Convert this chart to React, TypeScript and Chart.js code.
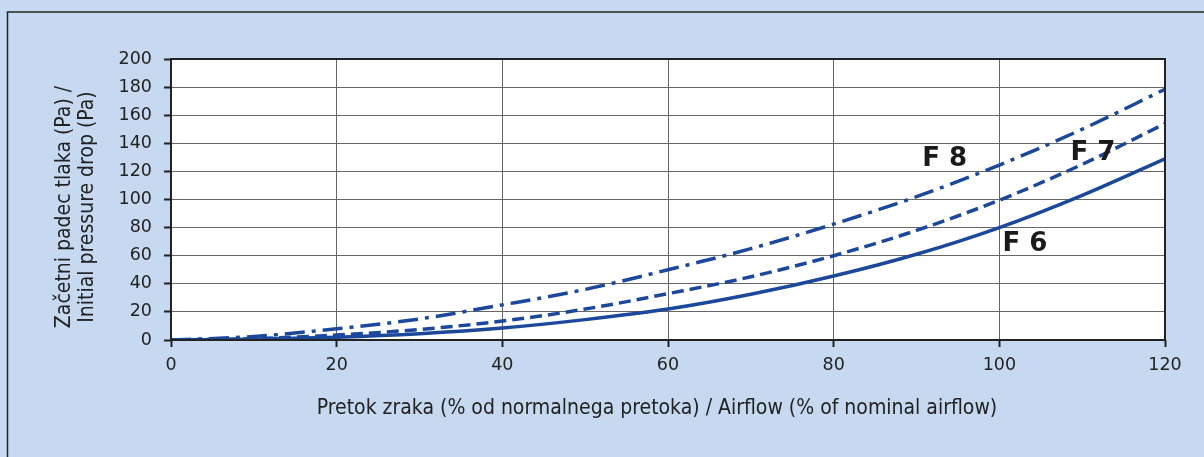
import React, { useEffect, useRef } from "react";
import { Chart, registerables } from "chart.js";

Chart.register(...registerables);

const airflow = [0, 10, 20, 30, 40, 50, 60, 70, 80, 90, 100, 110, 120];
const f6 = [0, 0.6, 2, 4.5, 8.5, 14.5, 22, 32.5, 45.5, 61, 80, 103, 129];
const f7 = [0, 1, 3.5, 7.5, 13.5, 22, 33, 45, 60, 78, 99.5, 125, 154];
const f8 = [0, 2.5, 8, 15, 25, 36, 50, 65, 82.5, 102, 124.5, 150, 178.5];

const seriesLabels = ["F 6", "F 7", "F 8"];
const labelPos = [
  { x: 103.1, y: 68.3 },
  { x: 111.3, y: 133 },
  { x: 93.4, y: 128.8 },
];

const xTitle = "Pretok zraka (% od normalnega pretoka) / Airflow (% of nominal airflow)";
const yTitle = ["Začetni padec tlaka (Pa) /", "Initial pressure drop (Pa)"];

const BG = "#c6d9f0";
const LINE = "#1c489c";
const TEXT = "#222222";

export default function App() {
  const ref = useRef<HTMLCanvasElement | null>(null);
  useEffect(() => {
    if (!ref.current) return;
    const mk = (vals: number[]) => airflow.map((x, i) => ({ x, y: vals[i] }));
    const decor = {
      id: "decor",
      beforeDraw(chart: any) {
        const c = chart.ctx;
        c.save();
        c.fillStyle = BG;
        c.fillRect(0, 0, chart.width, chart.height);
        c.strokeStyle = "#222";
        c.lineWidth = 1.5;
        c.beginPath();
        c.moveTo(7.5, chart.height);
        c.lineTo(7.5, 12);
        c.lineTo(chart.width, 12);
        c.stroke();
        const a = chart.chartArea;
        c.fillStyle = "#ffffff";
        c.fillRect(a.left, a.top, a.right - a.left, a.bottom - a.top);
        c.restore();
      },
      afterDraw(chart: any) {
        const c = chart.ctx;
        const a = chart.chartArea;
        const xs = chart.scales.x;
        const ys = chart.scales.y;
        c.save();
        c.strokeStyle = "#222";
        c.lineWidth = 2;
        c.strokeRect(a.left, a.top, a.right - a.left, a.bottom - a.top);
        c.fillStyle = TEXT;
        c.font = "21px 'DejaVu Sans Condensed', 'DejaVu Sans'";
        c.textAlign = "center";
        c.textBaseline = "middle";
        c.fillText(xTitle, (313 + 1001) / 2, 409);
        c.save();
        c.translate(65, (87 + 327) / 2);
        c.rotate(-Math.PI / 2);
        c.fillText(yTitle[0], 0, 0);
        c.restore();
        c.save();
        c.translate(88, (87 + 327) / 2);
        c.rotate(-Math.PI / 2);
        c.fillText(yTitle[1], 0, 0);
        c.restore();
        c.font = "bold 26px 'DejaVu Sans'";
        c.fillStyle = "#1a1a1a";
        seriesLabels.forEach((t, i) => {
          c.fillText(t, xs.getPixelForValue(labelPos[i].x), ys.getPixelForValue(labelPos[i].y));
        });
        c.restore();
      },
    };
    const chart = new Chart(ref.current, {
      type: "line",
      data: {
        datasets: [
          { label: "F 6", data: mk(f6), borderColor: LINE, borderWidth: 3.5, pointRadius: 0, cubicInterpolationMode: "monotone", fill: false },
          { label: "F 7", data: mk(f7), borderColor: LINE, borderWidth: 3.5, borderDash: [12, 6], pointRadius: 0, cubicInterpolationMode: "monotone", fill: false },
          { label: "F 8", data: mk(f8), borderColor: LINE, borderWidth: 3.5, borderDash: [20, 7, 4, 7], pointRadius: 0, cubicInterpolationMode: "monotone", fill: false },
        ],
      },
      options: {
        animation: false,
        responsive: false,
        layout: { padding: { left: 0, top: 59, right: 39, bottom: 0 } },
        plugins: { legend: { display: false }, tooltip: { enabled: false } },
        scales: {
          x: {
            type: "linear",
            min: 0,
            max: 120,
            afterFit: (s: any) => { s.height = 117; },
            ticks: { stepSize: 20, color: TEXT, font: { family: "'DejaVu Sans'", size: 17.5 }, padding: 8, maxRotation: 0 },
            grid: { color: "#666", lineWidth: 1, tickLength: 7, tickColor: "#222", tickWidth: 2 },
            border: { display: false },
          },
          y: {
            min: 0,
            max: 200,
            afterFit: (s: any) => { s.width = 171; },
            ticks: { stepSize: 20, color: TEXT, font: { family: "'DejaVu Sans'", size: 17.5 }, padding: 12 },
            grid: { color: "#666", lineWidth: 1, tickLength: 7, tickColor: "#222", tickWidth: 2 },
            border: { display: false },
          },
        },
      },
      plugins: [decor],
    });
    return () => chart.destroy();
  }, []);
  return (
    <div style={{ position: "fixed", left: 0, top: 0, width: 1204, height: 457, background: BG }}>
      <canvas ref={ref} width={1204} height={457} style={{ display: "block" }} />
    </div>
  );
}
